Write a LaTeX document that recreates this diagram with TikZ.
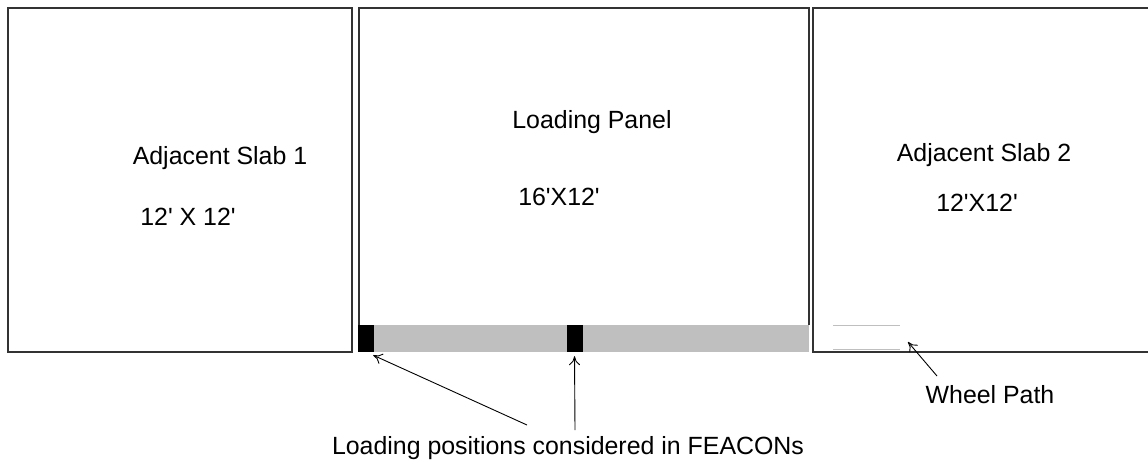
\documentclass[tikz,border=0pt]{standalone}
\usepackage{fontspec}
\setmainfont{Liberation Sans}
\usepackage{xcolor}
\usetikzlibrary{arrows.meta, positioning, calc}

\newcommand{\ft}{\textquotesingle}

\tikzset{
  slabline/.style={line width=1.6pt, draw=black!80},
  label/.style={font=\fontsize{24.9}{30}\selectfont, inner sep=0pt},
  loadblock/.style={fill=black, draw=none, inner sep=0pt, minimum width=16pt, minimum height=27pt},
  pointer/.style={-{To[length=9pt,width=11pt]}, line width=0.9pt},
  wheelline/.style={line width=1pt, draw=black!25}
}

\begin{document}
\begin{tikzpicture}[x=1pt, y=-1pt]
\useasboundingbox (0,0) rectangle (1148,461);
% Slabs
\draw[slabline] (8,8) rectangle (352,352);
\draw[slabline] (359,325) -- (359,8) -- (809,8) -- (809,325);
\draw[slabline] (1150,8) -- (813,8) -- (813,352) -- (1150,352);
% Loading strip
\fill[black!25] (359,325) rectangle (809,352);
\node[loadblock] (load1) at (366,338.5) {};
\node[loadblock] (load2) at (574.5,338.5) {};
% Wheel path
\draw[wheelline] (833,325) -- (900,325);
\draw[wheelline] (833,349) -- (900,349);
\coordinate (wheelend) at (908,342);
% Texts
\node[label] (slab1) at (220,158) {Adjacent Slab 1};
\node[label] (size1) at (188,217) {12\ft{} X 12\ft};
\node[label] (panel) at (592,122) {Loading Panel};
\node[label] (size2) at (559,197) {16\ft X12\ft};
\node[label] (slab2) at (984,155) {Adjacent Slab 2};
\node[label] (size3) at (977,203) {12\ft X12\ft};
\node[label] (wheel) at (990,395) {Wheel Path};
\node[label] (feacon) at (568,448) {Loading positions considered in FEACONs};
% Arrows
\coordinate (tail1) at (527,425);
\coordinate (tail2) at (575,430);
\coordinate (tail3) at (937,376);
\draw[pointer] (tail1) -- ($(load1.south east)+(-1,3)$);
\draw[pointer] (tail2) -- ($(load2.south)+(0,4)$);
\draw[pointer] (tail3) -- (wheelend);
\end{tikzpicture}
\end{document}
